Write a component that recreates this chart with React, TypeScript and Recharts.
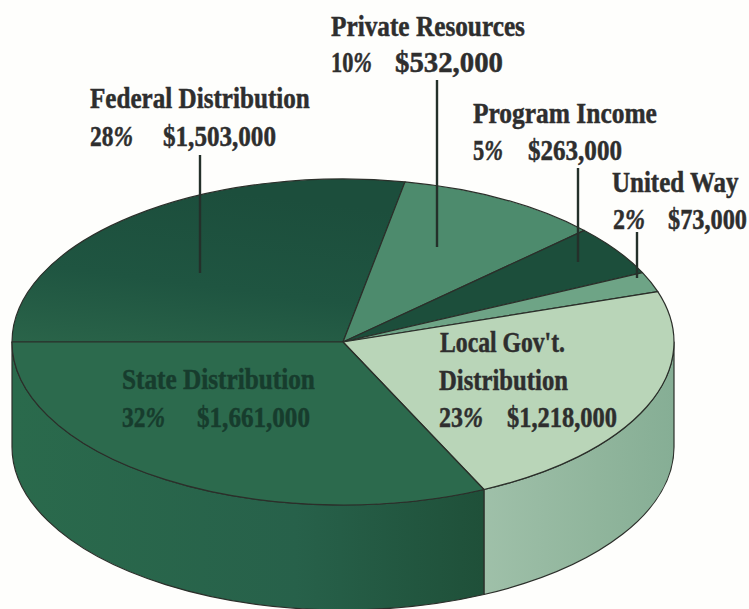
import React from "react";
import { PieChart, Pie, Cell } from "recharts";

const CATEGORIES = ["Federal Distribution", "Private Resources", "Program Income", "United Way", "Local Gov't. Distribution", "State Distribution"];
const PERCENTS = [28, 10, 5, 2, 23, 32];
const AMOUNTS = ["$1,503,000", "$532,000", "$263,000", "$73,000", "$1,218,000", "$1,661,000"];
const NAME_LINES = [["Federal Distribution"], ["Private Resources"], ["Program Income"], ["United Way"], ["Local Gov't.", "Distribution"], ["State Distribution"]];

const TOP_COLORS = ["url(#federalTop)", "#4d8b6d", "#1c4e3b", "#6ea486", "#b9d5b8", "#2c6a4d"];
const WALL_COLORS = ["none", "none", "none", "none", "url(#localWall)", "url(#stateWall)"];
const TEXT_COLORS = ["#2e2e2e", "#2e2e2e", "#2e2e2e", "#2e2e2e", "#2e2e2e", "#173c2d"];

// [x, baseline, width] for each piece of text, one entry per category
const NAME_BOXES = [
  [[90, 108, 220]],
  [[331, 36, 194]],
  [[473, 123, 184]],
  [[612, 192, 127]],
  [[440, 352, 125], [439, 390, 129]],
  [[122, 389, 193]],
];
const PCT_BOXES = [[90, 146, 43], [331, 72, 41], [473, 160, 30], [613, 229, 32], [439, 427, 44], [122, 427, 43]];
const AMT_BOXES = [[163, 146, 113], [395, 72, 108], [528, 160, 94], [668, 229, 79], [507, 427, 110], [197, 427, 113]];
const LEADERS = [[200, 155, 273], [437, 80, 247], [578, 168, 262], [637, 232, 278]];

const W = 749;
const H = 609;
const CX = 343;
const CY = 342;
const RX = 331;
const RATIO = 163 / 331;
const DEPTH = 105;
const EDGE = "#2b2f2a";
const FONT_SIZE = 30;

const chartData = CATEGORIES.map((name, i) => ({ name, value: PERCENTS[i], amount: AMOUNTS[i] }));

function pt(cx: number, cy: number, rx: number, deg: number) {
  const a = (deg * Math.PI) / 180;
  return [cx + rx * Math.cos(a), cy - rx * RATIO * Math.sin(a)];
}

const measureCtx = document.createElement("canvas").getContext("2d")!;
function measure(text: string, italic = false) {
  measureCtx.font = `${italic ? "italic " : ""}bold ${FONT_SIZE}px "Liberation Serif"`;
  return measureCtx.measureText(text).width;
}

// top face: the library's sector squashed into an ellipse
function TopSlice(props: any) {
  const { cx, cy, outerRadius: rx, startAngle, endAngle, fill } = props;
  const [x0, y0] = pt(cx, cy, rx, startAngle);
  const [x1, y1] = pt(cx, cy, rx, endAngle);
  const large = Math.abs(startAngle - endAngle) > 180 ? 1 : 0;
  const d = `M${cx},${cy} L${x0},${y0} A${rx},${rx * RATIO} 0 ${large} 1 ${x1},${y1} Z`;
  return <path d={d} fill={fill} stroke={EDGE} strokeWidth={1.2} strokeLinejoin="round" />;
}

// side wall: only the part of a slice on the front half is visible
function WallSlice(props: any) {
  const { cx, cy, outerRadius: rx, startAngle, endAngle, fill } = props;
  const from = Math.min(startAngle, 0);
  const to = endAngle;
  if (from <= to) return <g />;
  const [x0, y0] = pt(cx, cy, rx, from);
  const [x1, y1] = pt(cx, cy, rx, to);
  const ry = rx * RATIO;
  const d = `M${x0},${y0} A${rx},${ry} 0 0 1 ${x1},${y1} L${x1},${y1 + DEPTH} A${rx},${ry} 0 0 0 ${x0},${y0 + DEPTH} Z`;
  return <path d={d} fill={fill} stroke={EDGE} strokeWidth={1.2} strokeLinejoin="round" />;
}

// condensed look: squeeze the serif horizontally to the width in the box
function Piece({ box, text, color, italicTail }: { box: number[]; text: string; color: string; italicTail?: string }) {
  const natural = measure(text) + (italicTail ? measure(italicTail, true) : 0);
  return (
    <text
      transform={`translate(${box[0]},${box[1]}) scale(${box[2] / natural},1)`}
      fill={color}
      stroke={color}
      strokeWidth={0.5}
      fontFamily="'Liberation Serif', serif"
      fontWeight={700}
      fontSize={FONT_SIZE}
    >
      {text}
      {italicTail && <tspan fontStyle="italic">{italicTail}</tspan>}
    </text>
  );
}

export default function App() {
  return (
    <div style={{ position: "absolute", left: 0, top: 0, width: W, height: H, background: "#fefefc", overflow: "hidden" }}>
      <PieChart width={W} height={H} margin={{ top: 0, right: 0, bottom: 0, left: 0 }} style={{ position: "absolute", left: 0, top: 0 }}>
        <Pie
          data={chartData} dataKey="value" cx={CX} cy={CY} outerRadius={RX}
          startAngle={180} endAngle={-180} stroke="none"
          shape={WallSlice} isAnimationActive={false}
        >
          {chartData.map((_, i) => <Cell key={i} fill={WALL_COLORS[i]} />)}
        </Pie>
        <Pie
          data={chartData} dataKey="value" cx={CX} cy={CY} outerRadius={RX}
          startAngle={180} endAngle={-180} stroke="none"
          shape={TopSlice} isAnimationActive={false}
        >
          {chartData.map((_, i) => <Cell key={i} fill={TOP_COLORS[i]} />)}
        </Pie>
      </PieChart>
      <svg width={W} height={H} style={{ position: "absolute", left: 0, top: 0, pointerEvents: "none" }}>
        <defs>
          <linearGradient id="stateWall" x1="0" y1="0" x2="1" y2="0">
            <stop offset="0%" stopColor="#2a6a4c" />
            <stop offset="60%" stopColor="#27614a" />
            <stop offset="100%" stopColor="#1f5039" />
          </linearGradient>
          <linearGradient id="localWall" x1="0" y1="0" x2="1" y2="0">
            <stop offset="0%" stopColor="#9fc0a9" />
            <stop offset="60%" stopColor="#90b59c" />
            <stop offset="100%" stopColor="#86ae95" />
          </linearGradient>
          <linearGradient id="federalTop" x1="0" y1="1" x2="0.3" y2="0">
            <stop offset="0%" stopColor="#2a6449" />
            <stop offset="45%" stopColor="#1f5541" />
            <stop offset="100%" stopColor="#1c4e3c" />
          </linearGradient>
        </defs>
        {LEADERS.map(([x, y1, y2], i) => (
          <line key={i} x1={x} x2={x} y1={y1} y2={y2} stroke="#24302a" strokeWidth={2.4} />
        ))}
        {CATEGORIES.map((_, i) => (
          <g key={i}>
            {NAME_LINES[i].map((line, j) => (
              <Piece key={j} box={NAME_BOXES[i][j]} text={line} color={TEXT_COLORS[i]} />
            ))}
            <Piece box={PCT_BOXES[i]} text={`${PERCENTS[i]}`} italicTail="%" color={TEXT_COLORS[i]} />
            <Piece box={AMT_BOXES[i]} text={AMOUNTS[i]} color={TEXT_COLORS[i]} />
          </g>
        ))}
      </svg>
    </div>
  );
}
